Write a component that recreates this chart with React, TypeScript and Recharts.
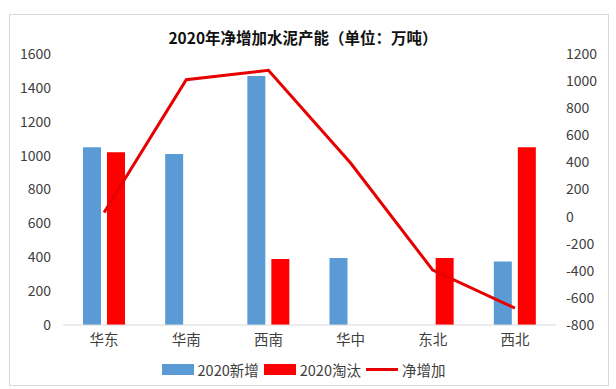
import React from 'react'
import { ComposedChart, Bar, Line, XAxis, YAxis, Legend } from 'recharts'

// Regions
const regions = ['华东', '华南', '西南', '华中', '东北', '西北']
// 2020 new capacity (万吨)
const added = [1050, 1010, 1470, 395, 0, 375]
// 2020 eliminated capacity
const removed = [1020, 0, 390, 0, 395, 1050]
// Net increase (right axis)
const net = [30, 1010, 1080, 395, -395, -675]

const leftTicks = [0, 200, 400, 600, 800, 1000, 1200, 1400, 1600]
const rightTicks = [-800, -600, -400, -200, 0, 200, 400, 600, 800, 1000, 1200]

const data = regions.map((name, i) => ({
  name,
  added: added[i],
  removed: removed[i],
  net: net[i],
}))

const FONT = '"Noto Sans CJK SC", "Microsoft YaHei", sans-serif'
const BLUE = '#5B9BD5'
const RED = '#FF0000'
const LINE_RED = '#E60000'

function ChartLegend() {
  const item = { display: 'flex', alignItems: 'center', marginRight: 5 }
  return (
    <div style={{ display: 'flex', justifyContent: 'center', fontFamily: FONT, fontSize: 14.5, color: '#404040', paddingRight: 4 }}>
      <div style={item}>
        <span style={{ width: 32, height: 11, background: BLUE, marginRight: 4 }} />
        2020新增
      </div>
      <div style={item}>
        <span style={{ width: 32, height: 11, background: RED, marginRight: 4 }} />
        2020淘汰
      </div>
      <div style={item}>
        <span style={{ width: 32, height: 3, background: LINE_RED, marginRight: 4 }} />
        净增加
      </div>
    </div>
  )
}

export default function App() {
  const tickStyle = { fontSize: 14, fill: '#404040', fontFamily: FONT }
  return (
    <div style={{ position: 'fixed', left: 0, top: 0, width: 616, height: 389, background: '#fff' }}>
      {/* chart frame */}
      <div style={{ position: 'absolute', left: 9, top: 14, width: 598, height: 370, border: '1px solid #d9d9d9' }} />
      {/* title */}
      <div
        style={{
          position: 'absolute',
          left: 0,
          width: 606,
          top: 26,
          textAlign: 'center',
          fontFamily: FONT,
          fontWeight: 'bold',
          fontSize: 15.5,
          color: '#111',
        }}
      >
        2020年净增加水泥产能（单位：万吨）
      </div>
      <ComposedChart
        width={616}
        height={389}
        data={data}
        margin={{ top: 54, right: 0, bottom: 9, left: 0 }}
        barGap={6}
        style={{ position: 'absolute', left: 0, top: 0 }}
      >
        <XAxis
          dataKey="name"
          height={34}
          tickLine={false}
          axisLine={{ stroke: '#d9d9d9' }}
          tick={{ ...tickStyle, fontSize: 14.5 }}
          tickMargin={4}
        />
        <YAxis
          yAxisId="left"
          width={63}
          domain={[0, 1600]}
          ticks={leftTicks}
          axisLine={false}
          tickLine={false}
          tick={tickStyle}
          tickMargin={6}
          interval={0}
        />
        <YAxis
          yAxisId="right"
          orientation="right"
          width={60}
          domain={[-800, 1200]}
          ticks={rightTicks}
          axisLine={false}
          tickLine={false}
          tick={{ ...tickStyle, textAnchor: 'start' }}
          tickMargin={4}
          interval={0}
        />
        <Legend verticalAlign="bottom" height={21} content={() => <ChartLegend />} />
        <Bar yAxisId="left" dataKey="added" name="2020新增" fill={BLUE} barSize={18} isAnimationActive={false} />
        <Bar yAxisId="left" dataKey="removed" name="2020淘汰" fill={RED} barSize={18} isAnimationActive={false} />
        <Line
          yAxisId="right"
          dataKey="net"
          name="净增加"
          type="linear"
          stroke={LINE_RED}
          strokeWidth={3}
          dot={false}
          activeDot={false}
          isAnimationActive={false}
        />
      </ComposedChart>
    </div>
  )
}
